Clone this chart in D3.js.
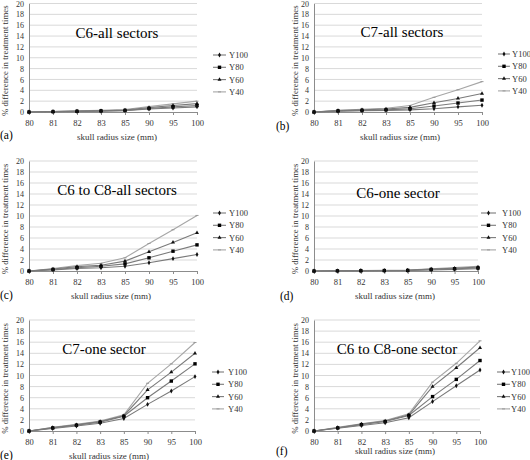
<!DOCTYPE html>
<html>
<head>
<meta charset="utf-8">
<script src="https://cdn.jsdelivr.net/npm/d3@7"></script>
<style>
html,body{margin:0;padding:0;background:#fff;}
svg{display:block;}
</style>
</head>
<body>
<script>
// ---- data ----
const categories = ["80","81","82","83","85","90","95","100"];
const seriesNames = ["Y100","Y80","Y60","Y40"];
const yTicks = [0,2,4,6,8,10,12,14,16,18,20];
const panelTitles = ["C6-all sectors","C7-all sectors","C6 to C8-all sectors","C6-one sector","C7-one sector","C6 to C8-one sector"];
const panelLetters = ["(a)","(b)","(c)","(d)","(e)","(f)"];
const xAxisTitle = "skull radius size (mm)";
const yAxisTitle = "% difference in treatment times";

// series order: Y100, Y80, Y60, Y40
const c6All = [
  [0, 0.05, 0.1, 0.15, 0.25, 0.55, 0.75, 0.95],
  [0, 0.07, 0.13, 0.2, 0.3, 0.65, 0.95, 1.2],
  [0, 0.08, 0.16, 0.24, 0.36, 0.8, 1.2, 1.55],
  [0, 0.1, 0.2, 0.3, 0.45, 1.0, 1.5, 2.0]
];
const c7All = [
  [0, 0.15, 0.22, 0.3, 0.4, 0.6, 0.95, 1.25],
  [0, 0.2, 0.3, 0.4, 0.6, 1.1, 1.65, 2.2],
  [0, 0.25, 0.4, 0.55, 0.85, 1.7, 2.5, 3.4],
  [0, 0.3, 0.5, 0.7, 1.2, 2.7, 4.1, 5.6]
];
const c6c8All = [
  [0, 0.2, 0.45, 0.6, 0.85, 1.5, 2.25, 3.0],
  [0, 0.28, 0.6, 0.85, 1.3, 2.4, 3.6, 4.75],
  [0, 0.35, 0.8, 1.05, 1.8, 3.5, 5.2, 6.95],
  [0, 0.45, 1.0, 1.4, 2.4, 5.0, 7.5, 10.1]
];
const c6One = [
  [0, 0.02, 0.04, 0.06, 0.08, 0.2, 0.3, 0.4],
  [0, 0.03, 0.05, 0.08, 0.11, 0.28, 0.4, 0.55],
  [0, 0.04, 0.06, 0.1, 0.14, 0.35, 0.5, 0.7],
  [0, 0.05, 0.08, 0.12, 0.18, 0.42, 0.62, 0.85]
];
const c7One = [
  [0, 0.45, 0.9, 1.4, 2.25, 4.8, 7.2, 9.8],
  [0, 0.55, 1.05, 1.6, 2.65, 6.0, 9.0, 12.1],
  [0, 0.6, 1.1, 1.7, 2.75, 7.4, 10.6, 14.0],
  [0, 0.65, 1.2, 1.8, 2.9, 8.6, 12.1, 15.95]
];
const c6c8One = [
  [0, 0.5, 1.0, 1.5, 2.4, 5.3, 8.15, 11.0],
  [0, 0.55, 1.15, 1.7, 2.8, 6.2, 9.3, 12.7],
  [0, 0.6, 1.25, 1.8, 2.9, 8.0, 11.4, 15.0],
  [0, 0.65, 1.3, 1.9, 3.1, 8.8, 12.2, 16.25]
];
const panelData = [c6All, c7All, c6c8All, c6One, c7One, c6c8One];

// ---- layout ----
const FONT = '"Liberation Serif"';
const layout = [
  {l:29, r:197, t:3.5, b:112, tx:117, ty:33, lgLine:[213,226], lgText:229, lgY:55, yl:5, letX:0, letY:135, axY:137, axX:117},
  {l:314, r:482, t:3.5, b:112, tx:402, ty:32, lgLine:[498,510], lgText:512, lgY:54, yl:295, letX:276, letY:126, axY:137, axX:400},
  {l:29, r:197, t:161, b:271, tx:117, ty:190, lgLine:[213,226], lgText:229, lgY:213, yl:5, letX:0, letY:295, axY:296, axX:111},
  {l:314, r:478, t:161, b:271, tx:398, ty:193, lgLine:[481,496], lgText:502, lgY:213, yl:295, letX:280, letY:296, axY:296, axX:395},
  {l:29, r:195, t:320, b:431, tx:104, ty:349, lgLine:[212,224], lgText:228, lgY:372, yl:5, letX:0, letY:455, axY:456, axX:109},
  {l:314, r:480, t:320, b:431, tx:397, ty:349, lgLine:[497,510], lgText:511, lgY:372, yl:295, letX:276, letY:451, axY:451, axX:395}
];

const W = 530, H = 460;
const svg = d3.select("body").append("svg").attr("width", W).attr("height", H);

const lineColors = ["#7a7a7a","#7a7a7a","#7a7a7a","#a6a6a6"];
const gridColor = "#d9d9d9";
const axisColor = "#8c8c8c";
const textColor = "#333";

function drawMarker(g, i, x, y) {
  if (i === 0) { // small diamond
    g.append("path").attr("d", d3.symbol(d3.symbolDiamond, 7)()).attr("transform", `translate(${x},${y})`).attr("fill", "#111");
  } else if (i === 1) { // square
    g.append("rect").attr("x", x - 1.7).attr("y", y - 1.7).attr("width", 3.4).attr("height", 3.4).attr("fill", "#000");
  } else if (i === 2) { // triangle
    g.append("path").attr("d", d3.symbol(d3.symbolTriangle, 7)()).attr("transform", `translate(${x},${y})`).attr("fill", "#111");
  } else { // small dash
    g.append("line").attr("x1", x - 1.5).attr("x2", x + 1.5).attr("y1", y).attr("y2", y).attr("stroke", "#999").attr("stroke-width", 1);
  }
}

layout.forEach((L, p) => {
  const g = svg.append("g");
  const x = d3.scalePoint().domain(categories).range([L.l, L.r]);
  const y = d3.scaleLinear().domain([0, 20]).range([L.b, L.t]);

  // gridlines
  g.selectAll(".grid").data(yTicks.filter(v => v > 0)).enter().append("line")
    .attr("x1", L.l).attr("x2", L.r).attr("y1", d => y(d)).attr("y2", d => y(d))
    .attr("stroke", gridColor).attr("stroke-width", 1);

  // y axis
  const yAxis = d3.axisLeft(y).tickValues(yTicks).tickSize(0).tickPadding(5);
  const ya = g.append("g").attr("transform", `translate(${L.l},0)`).call(yAxis);
  ya.select(".domain").attr("stroke", axisColor);
  ya.selectAll("text").attr("font-size", 8).attr("fill", textColor);

  // x axis
  const xAxis = d3.axisBottom(x).tickSizeInner(3).tickSizeOuter(0).tickPadding(5);
  const xa = g.append("g").attr("transform", `translate(0,${L.b})`).call(xAxis);
  xa.select(".domain").attr("stroke", axisColor);
  xa.selectAll(".tick line").attr("stroke", axisColor);
  xa.selectAll("text").attr("font-size", 8.5).attr("fill", textColor);

  // series lines (draw Y40 first, under)
  const data = panelData[p];
  const line = d3.line().x((d, i) => x(categories[i])).y(d => y(d));
  [3, 2, 1, 0].forEach(si => {
    g.append("path").datum(data[si]).attr("d", line)
      .attr("fill", "none").attr("stroke", lineColors[si]).attr("stroke-width", 1.1);
  });
  [3, 2, 1, 0].forEach(si => {
    data[si].forEach((v, i) => drawMarker(g, si, x(categories[i]), y(v)));
  });

  // title
  g.append("text").attr("x", L.tx).attr("y", L.ty).attr("text-anchor", "middle")
    .attr("dominant-baseline", "central").attr("font-size", 15).attr("fill", "#000").text(panelTitles[p]);

  // legend
  seriesNames.forEach((s, si) => {
    const ly = L.lgY + si * 12.3;
    g.append("line").attr("x1", L.lgLine[0]).attr("x2", L.lgLine[1]).attr("y1", ly).attr("y2", ly)
      .attr("stroke", lineColors[si]).attr("stroke-width", 1.1);
    drawMarker(g, si, (L.lgLine[0] + L.lgLine[1]) / 2, ly);
    g.append("text").attr("x", L.lgText).attr("y", ly).attr("dominant-baseline", "central")
      .attr("font-size", 8.5).attr("fill", textColor).text(s);
  });

  // y axis title
  const yMid = (L.t + L.b) / 2 + 3;
  g.append("text").attr("transform", `translate(${L.yl},${yMid}) rotate(-90)`)
    .attr("text-anchor", "middle").attr("dominant-baseline", "central")
    .attr("font-size", 8.8).attr("fill", textColor).text(yAxisTitle);

  // x axis title
  g.append("text").attr("x", L.axX).attr("y", L.axY).attr("text-anchor", "middle")
    .attr("dominant-baseline", "central").attr("font-size", 9).attr("fill", textColor).text(xAxisTitle);

  // panel letter
  g.append("text").attr("x", L.letX).attr("y", L.letY).attr("dominant-baseline", "central")
    .attr("font-size", 11.5).attr("fill", "#000").text(panelLetters[p]);
});

// force serif font on every text
svg.selectAll("text").style("font-family", FONT);
</script>
</body>
</html>
